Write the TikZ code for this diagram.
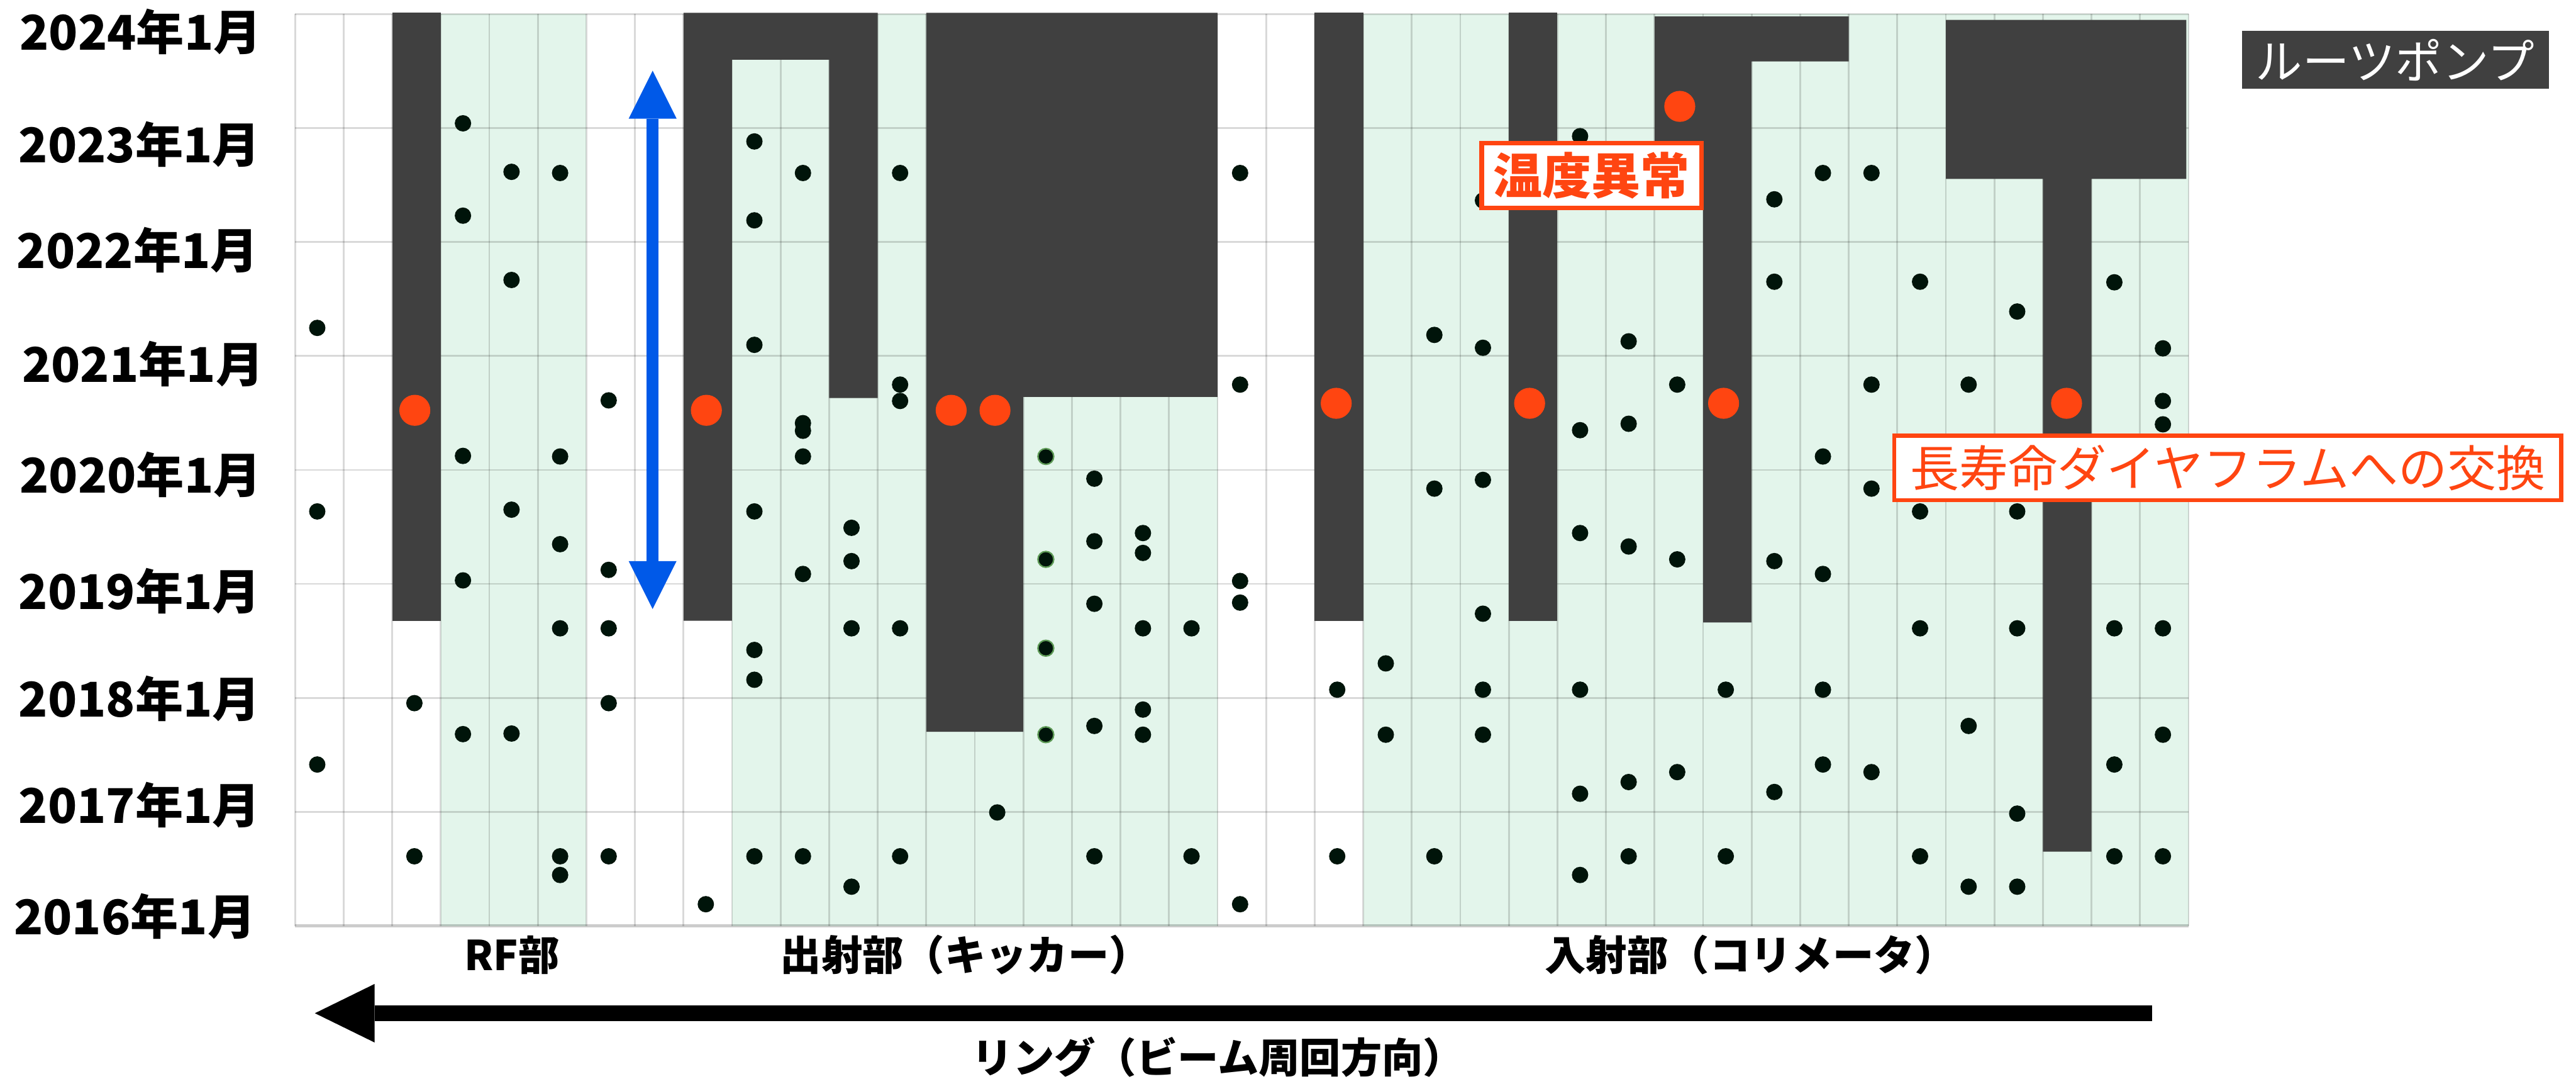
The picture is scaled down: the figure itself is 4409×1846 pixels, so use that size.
\documentclass[tikz,border=0pt]{standalone}
\usepackage{fontspec}
\setmainfont{Noto Sans CJK JP}
\usetikzlibrary{arrows.meta}
\definecolor{darkbar}{HTML}{404040}
\definecolor{greenbg}{HTML}{E3F5EB}
\definecolor{dotc}{HTML}{00140A}
\definecolor{alert}{HTML}{FF4511}
\definecolor{beam}{HTML}{0059E8}
\definecolor{ringol}{HTML}{5E9A56}
\begin{document}
\begin{tikzpicture}[x=0.01cm,y=-0.01cm,
  yearlabel/.style={anchor=base east,inner sep=0pt,font=\fontsize{23.3pt}{25pt}\selectfont\bfseries},
  partlabel/.style={anchor=base,inner sep=0pt,font=\fontsize{20pt}{22pt}\selectfont\bfseries},
  gridline/.style={draw=black,draw opacity=0.15,line width=0.03cm},
  darkshape/.style={fill=darkbar},
  blackdot/.style={fill=dotc},
  faultdot/.style={fill=alert},
  callout/.style={draw=alert,fill=white,text=alert,inner sep=0pt}
]
\useasboundingbox (0,0) rectangle (4409,1846);
\fill[white] (0,0) rectangle (4409,1846);

% green regions
\fill[greenbg] ({505+83.1*3},24) rectangle ({505+83.1*6},1584);
\fill[greenbg] ({505+83.1*9},24) rectangle ({505+83.1*19},1584);
\fill[greenbg] ({505+83.1*22},24) rectangle ({505+83.1*39},1584);

% grid
\foreach \i in {0,...,39} \draw[gridline] ({505+83.1*\i},24) -- ({505+83.1*\i},1584);
\foreach \k in {0,...,7} \draw[gridline] (505,{24+195*\k}) -- (3746,{24+195*\k});
\draw[draw=black,draw opacity=0.2,line width=0.05cm] (505,1584) -- (3746,1584);

% dark shapes (roots pump periods)
\fill[darkshape] (671.2,22) rectangle (754.3,1062);
\fill[darkshape] (1169.8,22) -- (1502.2,22) -- (1502.2,681) -- (1419.1,681) -- (1419.1,102) -- (1252.9,102) -- (1252.9,1062) -- (1169.8,1062) -- cycle;
\fill[darkshape] (1585.3,22) -- (2083.9,22) -- (2083.9,679) -- (1751.5,679) -- (1751.5,1252) -- (1585.3,1252) -- cycle;
\fill[darkshape] (2250.1,22) rectangle (2333.2,1062);
\fill[darkshape] (2582.5,22) rectangle (2665.6,1062);
\fill[darkshape] (2831.8,28) -- (3164.2,28) -- (3164.2,105) -- (2998,105) -- (2998,1065) -- (2914.9,1065) -- (2914.9,300) -- (2831.8,300) -- cycle;
\fill[darkshape] (3330.4,34) -- (3742,34) -- (3742,306) -- (3579.7,306) -- (3579.7,1457) -- (3496.6,1457) -- (3496.6,306) -- (3330.4,306) -- cycle;

% black dots (col/y)
\foreach \c/\y in {0/561,0/875,0/1308,
  2/1203,2/1465,
  3/211,3/369,3/780,3/993,3/1256,
  4/294,4/479,4/872,4/1255,
  5/296,5/781,5/931,5/1075,5/1465,5/1497,
  6/685,6/975,6/1075,6/1203,6/1465,
  8/1547,
  9/242,9/377,9/590,9/875,9/1112,9/1163,9/1465,
  10/296,10/724,10/737,10/781,10/982,10/1465,
  11/903,11/960,11/1075,11/1517,
  12/296,12/658,12/686,12/1075,12/1465,
  14/1390,
  16/819,16/926,16/1033,16/1242,16/1465,
  17/912,17/946,17/1075,17/1214,17/1257,
  18/1075,18/1465,
  19/296,19/658,19/994,19/1031,19/1547,
  21/1180,21/1465,
  22/1135,22/1257,
  23/573,23/836,23/1465,
  24/343,24/595,24/821,24/1050,24/1180,24/1257,
  26/233,26/736,26/912,26/1180,26/1358,26/1497,
  27/584,27/725,27/935,27/1338,27/1465,
  28/658,28/957,28/1321,
  29/1180,29/1465,
  30/341,30/482,30/960,30/1355,
  31/296,31/781,31/982,31/1180,31/1308,
  32/296,32/658,32/836,32/1321,
  33/482,33/875,33/1075,33/1465,
  34/658,34/1242,34/1517,
  35/533,35/875,35/1075,35/1392,35/1517,
  37/483,37/1075,37/1308,37/1465,
  38/596,38/686,38/726,38/1075,38/1257,38/1465}
  \fill[blackdot] ({543+83.13*\c},\y) circle[radius=0.14cm];
% dots with green rim
\foreach \y in {781,957,1109,1257}
  \filldraw[fill=dotc,draw=ringol,line width=0.025cm] (1790,\y) circle[radius=0.135cm];

% fault (orange) dots
\foreach \x/\y in {710/702,1209/702,1628/702,1703/702,2287/690,2618/690,2875/182,2950/690,3537/690}
  \fill[faultdot] (\x,\y) circle[radius=0.265cm];

% blue double arrow
\coordinate (btop) at (1117,121);
\coordinate (bbot) at (1117,1042);
\draw[beam,line width=0.2cm,{Triangle[length=0.82cm,width=0.82cm,line width=0pt]}-{Triangle[length=0.82cm,width=0.82cm,line width=0pt]}] (btop) -- (bbot);

% ring direction arrow
\coordinate (rstart) at (3683,1733.5);
\coordinate (rend) at (539,1733.5);
\draw[black,line width=0.27cm,-{Triangle[length=1.02cm,width=1.0cm,line width=0pt]}] (rstart) -- (rend);

% year labels
\node[yearlabel] (y2024) at (448,86) {2024年1月};
\node[yearlabel] (y2023) at (446,278) {2023年1月};
\node[yearlabel] (y2022) at (443,459) {2022年1月};
\node[yearlabel] (y2021) at (452,654) {2021年1月};
\node[yearlabel] (y2020) at (448,843) {2020年1月};
\node[yearlabel] (y2019) at (446,1043) {2019年1月};
\node[yearlabel] (y2018) at (446,1227) {2018年1月};
\node[yearlabel] (y2017) at (446,1408) {2017年1月};
\node[yearlabel] (y2016) at (438,1599) {2016年1月};

% part labels
\node[partlabel] (rf) at (876,1660) {RF部};
\node[partlabel] (kicker) at (1652,1660) {出射部（キッカー）};
\node[partlabel] (collim) at (2996,1660) {入射部（コリメータ）};
\node[partlabel] (ring) at (2085,1836) {リング（ビーム周回方向）};

% callouts
\node[callout,line width=0.08cm,minimum width=3.76cm,minimum height=1.11cm,font=\fontsize{23.9pt}{25pt}\selectfont\bfseries] (temp) at (2724,300.5) {温度異常};
\node[callout,line width=0.07cm,minimum width=11.41cm,minimum height=1.10cm,font=\fontsize{23.9pt}{25pt}\selectfont] (diaph) at (3813,800.5) {長寿命ダイヤフラムへの交換};
\node[fill=darkbar,text=white,inner sep=0pt,minimum width=5.25cm,minimum height=0.99cm,font=\fontsize{22.8pt}{24pt}\selectfont] (pump) at (4099.5,102.5) {ルーツポンプ};
\end{tikzpicture}
\end{document}
